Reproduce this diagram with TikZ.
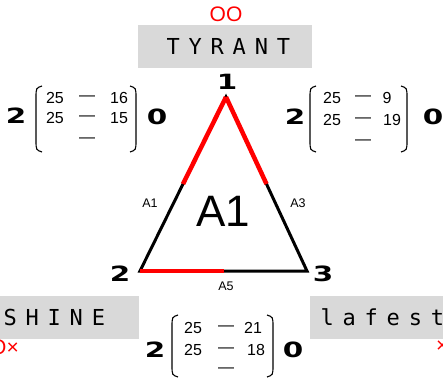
\documentclass[tikz,border=0pt]{standalone}
\usepackage{fontspec}
\setmainfont{Liberation Sans}
\newfontfamily\heavyfont{DejaVu Sans}
\newfontfamily\spacedfont[LetterSpace=40]{DejaVu Sans Mono}
\usetikzlibrary{calc}
\definecolor{boxgray}{HTML}{D9D9D9}

\begin{document}
\begin{tikzpicture}[x=1pt,y=-1pt,
    heavy/.style={inner sep=0pt,font=\heavyfont\bfseries\fontsize{21}{21}\selectfont,xscale=1.4},
    entry/.style={inner sep=0pt,font=\fontsize{16}{16}\selectfont},
    namebox/.style={fill=boxgray,minimum width=174pt,minimum height=43pt,inner sep=0pt},
    boxtext/.style={inner sep=0pt,anchor=west,font=\spacedfont\fontsize{22}{22}\selectfont},
    redmarks/.style={inner sep=0pt,text=red,font=\fontsize{21}{21}\selectfont},
    edgelabel/.style={inner sep=0pt,font=\fontsize{12.5}{12.5}\selectfont},
    side/.style={line width=3pt},
    hot/.style={red,line width=4.5pt},
    bracket/.style={line width=1.1pt}]
    \useasboundingbox (0,0) rectangle (443,379);
    \clip (0,0) rectangle (443,379);

    % name boxes
    \node[redmarks] (tyrantmarks) at (226,14) {OO};
    \node[namebox] (tyrantbox) at (225,46.5) {};
    \node[boxtext] (tyrant) at (166.4,46.5) {TYRANT};
    \node[namebox] (shinebox) at (52,317) {};
    \node[boxtext] (shine) at (3.4,317) {SHINE};
    \node[redmarks,anchor=east] (shinemarks) at (19,347) {O×};
    \node[namebox] (festbox) at (397,317) {};
    \node[boxtext] (fest) at (320.4,317) {lafest};
    \node[redmarks,anchor=west] (festmarks) at (436,347) {×};

    % triangle
    \coordinate (v1) at (226,97);
    \coordinate (v2) at (140,271);
    \coordinate (v3) at (307,271);
    \draw[side] (v1) -- (v2) -- (v3) -- cycle;
    \draw[hot] (v1) -- ($(v1)!.5!(v2)$);
    \draw[hot] (v1) -- ($(v1)!.5!(v3)$);
    \draw[hot] (v2) -- ($(v2)!.5!(v3)$);
    \node[heavy] (n1) at (227,82) {1};
    \node[heavy] (n2) at (120,274) {2};
    \node[heavy] (n3) at (323,274) {3};
    \node[edgelabel] (a1) at (150,203) {A1};
    \node[edgelabel] (a3) at (298,203) {A3};
    \node[edgelabel] (a5) at (226,286) {A5};
    \node[inner sep=0pt,font=\fontsize{44}{44}\selectfont] (centre) at (223,211) {A1};

    % left score
    \node[heavy] (lpre) at (16,116) {2};
    \draw[bracket] (42,86) .. controls (36,88) .. (36,98) -- (36,140) .. controls (36,150) .. (42,152);
    \draw[bracket] (130,86) .. controls (136,88) .. (136,98) -- (136,140) .. controls (136,150) .. (130,152);
    \node[entry] (la1) at (55,98) {25};
    \node[entry] (lb1) at (87,98) {—};
    \node[entry] (lc1) at (119,98) {16};
    \node[entry] (la2) at (55,118) {25};
    \node[entry] (lb2) at (87,118) {—};
    \node[entry] (lc2) at (119,118) {15};
    \node[entry] (lb3) at (87,140) {—};
    \node[heavy] (lpost) at (157,117) {0};

    % right score
    \node[heavy] (rpre) at (295,117) {2};
    \draw[bracket] (316,86) .. controls (310,88) .. (310,98) -- (310,140) .. controls (310,150) .. (316,152);
    \draw[bracket] (401,86) .. controls (407,88) .. (407,98) -- (407,140) .. controls (407,150) .. (401,152);
    \node[entry] (ra1) at (332,98) {25};
    \node[entry] (rb1) at (363,98) {—};
    \node[entry] (rc1) at (387,98) {9};
    \node[entry] (ra2) at (332,120) {25};
    \node[entry] (rb2) at (363,120) {—};
    \node[entry] (rc2) at (392,120) {19};
    \node[entry] (rb3) at (363,142) {—};
    \node[heavy] (rpost) at (433,117) {0};

    % bottom score
    \node[heavy] (bpre) at (155,350) {2};
    \draw[bracket] (178,315) .. controls (172,317) .. (172,327) -- (172,365) .. controls (172,375) .. (178,377);
    \draw[bracket] (267,315) .. controls (273,317) .. (273,327) -- (273,365) .. controls (273,375) .. (267,377);
    \node[entry] (ba1) at (193,328) {25};
    \node[entry] (bb1) at (226,328) {—};
    \node[entry] (bc1) at (253,328) {21};
    \node[entry] (ba2) at (193,350) {25};
    \node[entry] (bb2) at (226,350) {—};
    \node[entry] (bc2) at (256,350) {18};
    \node[entry] (bb3) at (226,370) {—};
    \node[heavy] (bpost) at (293,350) {0};
\end{tikzpicture}
\end{document}
